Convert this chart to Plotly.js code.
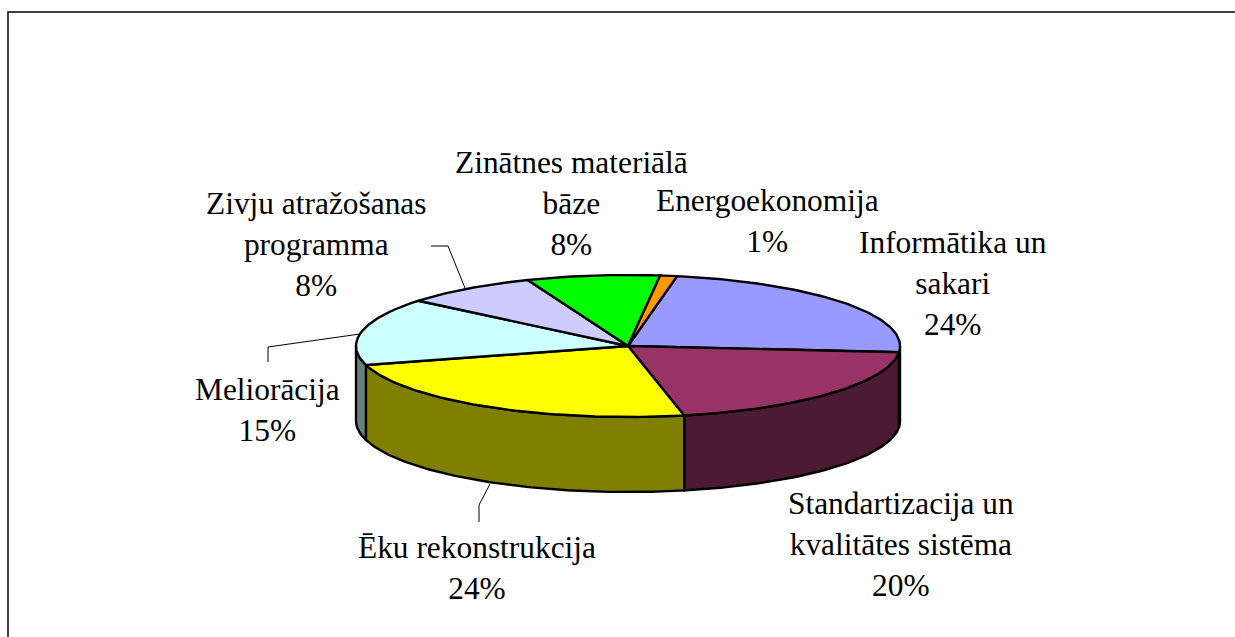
<!DOCTYPE html>
<html>
<head>
<meta charset="utf-8">
<script src="https://cdn.plot.ly/plotly-3.0.1.min.js"></script>
<style>html,body{margin:0;padding:0;background:#fff;overflow:hidden}#chart{width:1235px;height:637px}</style>
</head>
<body>
<div id="chart"></div>
<script>
// Data
const categories = ["Informātika un<br>sakari", "Standartizacija un<br>kvalitātes sistēma", "Ēku rekonstrukcija", "Meliorācija", "Zivju atražošanas<br>programma", "Zinātnes materiālā<br>bāze", "Energoekonomija"];
const shares = [23.5, 20.3, 24, 15.3, 8, 7.9, 1];
const topColors = ["#9999FF", "#993366", "#FFFF00", "#CCFFFF", "#CCCCFF", "#00FF00", "#FF9900"];
const wallColors = ["#4C4C80", "#4D1A33", "#808000", "#668080", "#666680", "#008000", "#804C00"];

// Layout geometry of the disc (pixels of the 1235x637 canvas)
const disc = {cx: 628, cy: 346, rx: 272, ry: 71, depth: 75, start: 10.4};
const labelAt = [[953, 283], [901, 544], [477, 568], [267, 410], [316, 244], [571, 203], [767, 221]];
const leaders = [
  {x: [431, 448, 465], y: [246, 246, 288]},
  {x: [268, 268, 360], y: [362, 347, 334]},
  {x: [479, 479, 490], y: [522, 505, 484]}
];

const px = t => disc.cx + disc.rx * Math.sin(t * Math.PI / 180);
const py = t => disc.cy - disc.ry * Math.cos(t * Math.PI / 180);
const total = shares.reduce((a, b) => a + b, 0);
const traces = [];
let angle = disc.start;
const spans = shares.map(v => { const a = angle; angle += v / total * 360; return [a, angle]; });

function arc(a, b) {
  const out = [];
  const n = Math.max(2, Math.ceil(Math.abs(b - a)));
  for (let i = 0; i <= n; i++) out.push(a + (b - a) * i / n);
  return out;
}

// side walls (only the front half of the rim, 90..270 degrees, is visible)
spans.forEach((s, i) => {
  const a = Math.max(s[0], 90), b = Math.min(s[1], 270);
  if (b <= a) return;
  const ts = arc(a, b);
  const xs = ts.map(px).concat(ts.slice().reverse().map(px));
  const ys = ts.map(py).concat(ts.slice().reverse().map(t => py(t) + disc.depth));
  xs.push(xs[0]); ys.push(ys[0]);
  traces.push({type: "scatter", mode: "lines", x: xs, y: ys, fill: "toself", fillcolor: wallColors[i],
    line: {color: "#000", width: 2.4}, hoverinfo: "skip", showlegend: false});
});

// top of the disc
spans.forEach((s, i) => {
  const ts = arc(s[0], s[1]);
  const xs = [disc.cx].concat(ts.map(px), [disc.cx]);
  const ys = [disc.cy].concat(ts.map(py), [disc.cy]);
  traces.push({type: "scatter", mode: "lines", x: xs, y: ys, fill: "toself", fillcolor: topColors[i],
    line: {color: "#000", width: 2.4}, name: categories[i].replace("<br>", " "), showlegend: false});
});

// leader lines
leaders.forEach(l => traces.push({type: "scatter", mode: "lines", x: l.x, y: l.y,
  line: {color: "#000", width: 1}, hoverinfo: "skip", showlegend: false}));

const annotations = categories.map((c, i) => ({
  x: labelAt[i][0], y: labelAt[i][1], xref: "x", yref: "y", showarrow: false,
  text: c + "<br>" + Math.round(shares[i]) + "%", align: "center", xanchor: "center", yanchor: "middle",
  font: {family: "Liberation Serif", size: 31.4, color: "#000"}
}));

const hidden = {visible: false, fixedrange: true};
const layout = {
  width: 1235, height: 637, margin: {l: 0, r: 0, t: 0, b: 0, pad: 0},
  paper_bgcolor: "#fff", plot_bgcolor: "#fff", showlegend: false,
  xaxis: Object.assign({range: [0, 1235]}, hidden),
  yaxis: Object.assign({range: [637, 0]}, hidden),
  annotations: annotations,
  shapes: [{type: "rect", xref: "x", yref: "y", x0: 8, y0: 12, x1: 1260, y1: 660, line: {color: "#000", width: 1.5}, fillcolor: "rgba(0,0,0,0)", layer: "below"}]
};
Plotly.newPlot("chart", traces, layout, {displayModeBar: false, staticPlot: true});
</script>
</body>
</html>
